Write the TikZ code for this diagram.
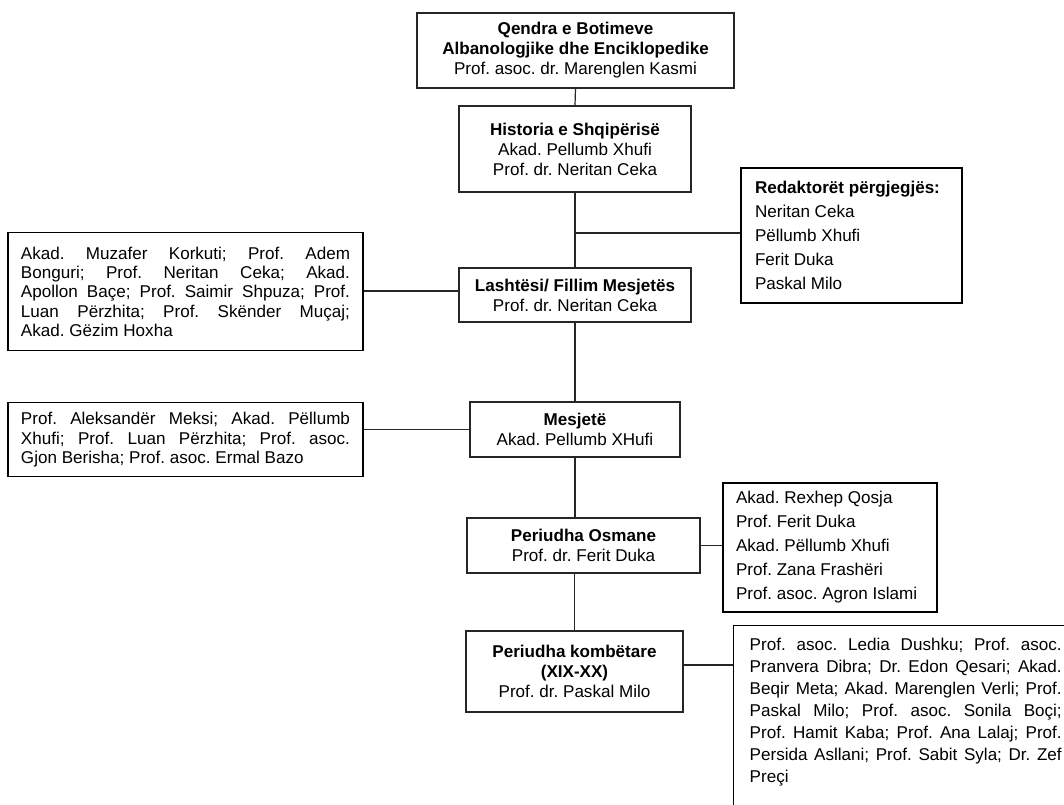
\documentclass[tikz,border=0pt]{standalone}
\usepackage{fontspec}
\setmainfont{Liberation Sans}
\newcommand\jl[2]{{\spaceskip=0pt\xspaceskip=0pt\makebox[#1][s]{#2}}}
\tikzset{
  every node/.style={execute at begin node={\frenchspacing\spaceskip=0pt\xspaceskip=0pt}},
  box/.style={draw=black!85, line width=0.9pt, fill=white, inner sep=0pt, align=center,
    font=\fontsize{12.8}{15}\selectfont},
  listbox/.style={draw=black, line width=1.1pt, fill=white, align=left},
  conn/.style={draw=black!85, line width=0.9pt}
}
\begin{document}
\frenchspacing
\begin{tikzpicture}[x=0.75pt,y=-0.75pt]
\useasboundingbox[fill=white] (0,0) rectangle (1064,805);

\node[box, minimum width=237.75pt, minimum height=56.25pt] (top) at (575.5,50.5)
  {\textbf{Qendra e Botimeve}\\\textbf{Albanologjike dhe Enciklopedike}\\Prof. asoc. dr. Marenglen Kasmi};
\node[box, minimum width=174pt, minimum height=64.5pt] (hist) at (575,149)
  {\textbf{Historia e Shqipërisë}\\Akad. Pellumb Xhufi\\Prof. dr. Neritan Ceka};
\node[listbox, minimum width=165.75pt, minimum height=101.25pt, text width=144.75pt, inner xsep=10.5pt,
  font=\fontsize{12.8}{18}\selectfont] (red) at (851.5,235.5)
  {\textbf{Redaktorët përgjegjës:}\\Neritan Ceka\\Pëllumb Xhufi\\Ferit Duka\\Paskal Milo};
\node[box, minimum width=174pt, minimum height=40.5pt] (lash) at (575,295)
  {\textbf{Lashtësi/ Fillim Mesjetës}\\Prof. dr. Neritan Ceka};
\node[listbox, anchor=north, minimum width=266.25pt, minimum height=88.5pt, text width=246.75pt, inner xsep=9.75pt,
  font=\fontsize{12.8}{14.5}\selectfont] (L1) at (185.5,232)
  {\jl{246.75pt}{Akad. Muzafer Korkuti; Prof. Adem}\\
   \jl{246.75pt}{Bonguri; Prof. Neritan Ceka; Akad.}\\
   \jl{246.75pt}{Apollon Baçe; Prof. Saimir Shpuza; Prof.}\\
   \jl{246.75pt}{Luan Përzhita; Prof. Skënder Muçaj;}\\
   Akad. Gëzim Hoxha};
\node[box, minimum width=157.5pt, minimum height=41.25pt] (mes) at (575,429.5)
  {\textbf{Mesjetë}\\Akad. Pellumb XHufi};
\node[listbox, anchor=north, minimum width=266.25pt, minimum height=55.5pt, text width=246.75pt, inner xsep=9.75pt,
  font=\fontsize{12.8}{14.6}\selectfont] (L2) at (185.5,402)
  {\jl{246.75pt}{Prof. Aleksandër Meksi; Akad. Pëllumb}\\
   \jl{246.75pt}{Xhufi; Prof. Luan Përzhita; Prof. asoc.}\\
   Gjon Berisha; Prof. asoc. Ermal Bazo};
\node[box, minimum width=174.75pt, minimum height=41.25pt] (osm) at (583.5,545.5)
  {\textbf{Periudha Osmane}\\Prof. dr. Ferit Duka};
\node[listbox, minimum width=160.5pt, minimum height=96.75pt, text width=141pt, inner xsep=9.75pt,
  font=\fontsize{12.8}{18}\selectfont] (R2) at (830,547.5)
  {Akad. Rexhep Qosja\\Prof. Ferit Duka\\Akad. Pëllumb Xhufi\\Prof. Zana Frashëri\\Prof. asoc. Agron Islami};
\node[box, minimum width=162.75pt, minimum height=60.75pt] (kom) at (574.5,671.5)
  {\textbf{Periudha kombëtare}\\\textbf{(XIX-XX)}\\Prof. dr. Paskal Milo};
\node[listbox, anchor=north west, text width=234pt, inner xsep=12pt, inner ysep=9pt,
  font=\fontsize{12.8}{16.6}\selectfont] (R3) at (733,625)
  {\jl{234pt}{Prof. asoc. Ledia Dushku; Prof. asoc.}\\
   \jl{234pt}{Pranvera Dibra; Dr. Edon Qesari; Akad.}\\
   \jl{234pt}{Beqir Meta; Akad. Marenglen Verli; Prof.}\\
   \jl{234pt}{Paskal Milo; Prof. asoc. Sonila Boçi;}\\
   \jl{234pt}{Prof. Hamit Kaba; Prof. Ana Lalaj; Prof.}\\
   \jl{234pt}{Persida Asllani; Prof. Sabit Syla; Dr. Zef}\\
   Preçi\\
   \rule{0pt}{20pt}};

\coordinate (jr) at (575,233);
\coordinate (j1) at (575,291);
\coordinate (jk) at (700,665);

\draw[conn] (top.south) -- (hist.north);
\draw[conn] (hist.south) -- (lash.north);
\draw[conn] (lash.south) -- (mes.north);
\draw[conn] (mes.south) -- (mes.south |- osm.north);
\draw[conn] (kom.north |- osm.south) -- (kom.north);
\draw[conn] (jr) -- (jr -| red.west);
\draw[conn] (L1.east |- j1) -- (lash.west |- j1);
\draw[conn] (L2.east |- mes.west) -- (mes.west);
\draw[conn] (osm.east) -- (osm.east -| R2.west);
\draw[conn] (kom.east |- jk) -- (R3.west |- jk);
\end{tikzpicture}
\end{document}
